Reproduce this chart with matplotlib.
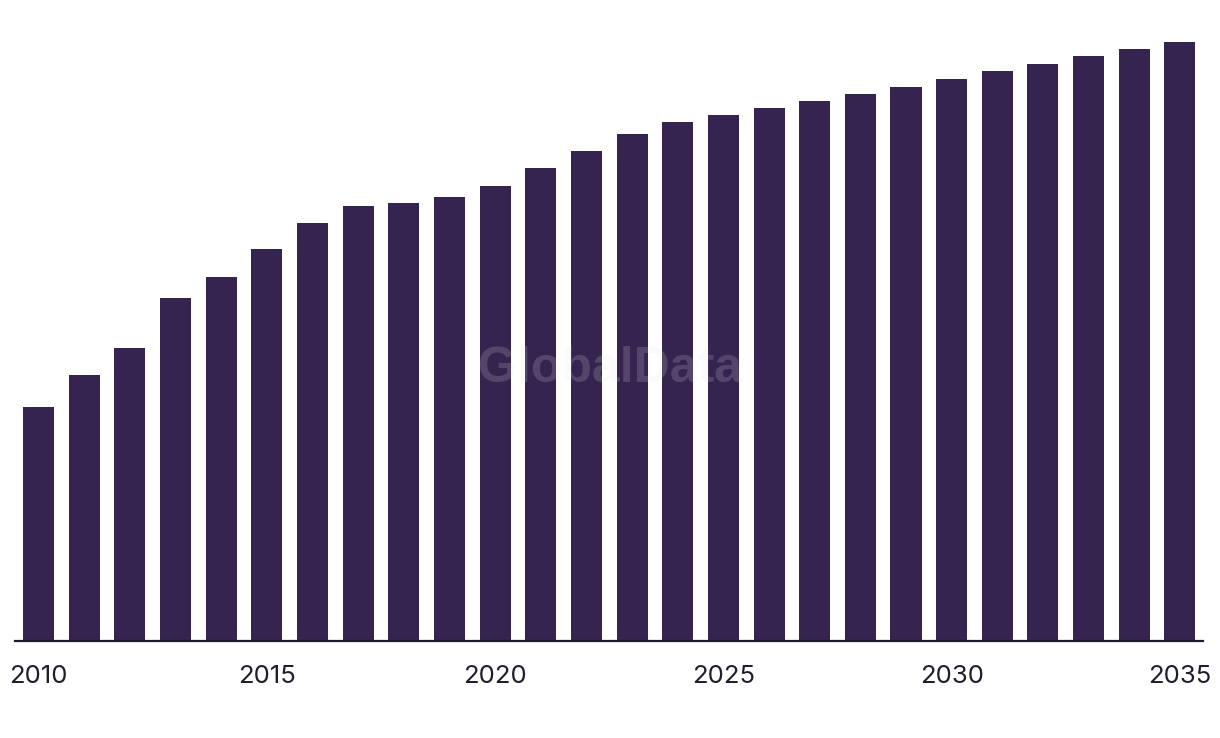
import matplotlib.pyplot as plt

years = list(range(2010, 2036))
values = [23.4, 26.6, 29.3, 34.3, 36.4, 39.2, 41.8, 43.5, 43.8, 44.4,
          45.5, 47.3, 49.0, 50.7, 51.9, 52.6, 53.3, 54.0, 54.7, 55.4,
          56.2, 57.0, 57.7, 58.5, 59.2, 59.9]
tick_years = [2010, 2015, 2020, 2025, 2030, 2035]

fig = plt.figure(figsize=(12.2, 7.38), dpi=100)
ax = fig.add_axes([15/1220, 1 - 641/738, (1203 - 15)/1220, 641/738])

ax.bar(years, values, width=0.68, color='#352350')
ax.set_xlim(2009.485, 2035.505)
ax.set_ylim(0, 64.1)

for s in ['top', 'right', 'left']:
  ax.spines[s].set_visible(False)
ax.spines['bottom'].set_linewidth(1.6)
ax.spines['bottom'].set_color('#1c1a2b')
ax.set_yticks([])
ax.set_xticks(tick_years)
ax.set_xticklabels([str(y) for y in tick_years], fontsize=18.5, color='#1e1e2e', family=['Inter', 'DejaVu Sans'])
ax.tick_params(axis='x', length=0, pad=17.5)

# watermark
fig.text(0.5, 0.5, 'GlobalData', fontsize=36, fontweight='bold', family='Liberation Sans',
         color='#e6e6e6', alpha=0.18, ha='center', va='center')

plt.savefig('out.png', dpi=100)
